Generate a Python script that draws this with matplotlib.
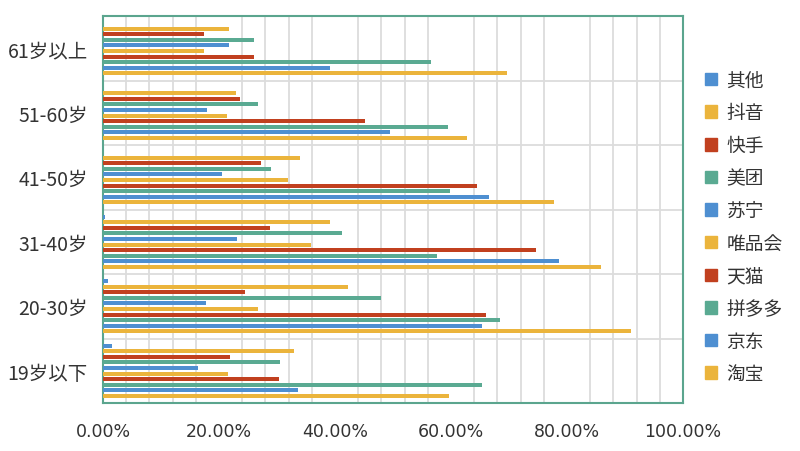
import numpy as np
import matplotlib
matplotlib.use("Agg")
import matplotlib.pyplot as plt
import matplotlib.ticker as ticker
from matplotlib.patches import Patch

plt.rcParams['font.family'] = ['Noto Sans CJK JP', 'DejaVu Sans']

# age groups, bottom -> top
groups = ["19岁以下", "20-30岁", "31-40岁", "41-50岁", "51-60岁", "61岁以上"]

# series, drawn bottom -> top inside each group
series = ["淘宝", "京东", "拼多多", "天猫", "唯品会", "苏宁", "美团", "快手", "抖音", "其他"]

taobao   = [59.7, 91.1, 85.8, 77.7, 62.8, 69.6]
jingdong = [33.6, 65.3, 78.6, 66.6, 49.5, 39.1]
pinduo   = [65.4, 68.5, 57.6, 59.8, 59.4, 56.5]
tianmao  = [30.3, 66.0, 74.7, 64.4, 45.2, 26.1]
weipin   = [21.6, 26.7, 35.9, 31.9, 21.4, 17.4]
suning   = [16.3, 17.8, 23.1, 20.6, 18.0, 21.7]
meituan  = [30.6, 48.0, 41.2, 28.9, 26.7, 26.1]
kuaishou = [21.9, 24.4, 28.8, 27.3, 23.7, 17.4]
douyin   = [33.0, 42.2, 39.2, 34.0, 22.9, 21.7]
qita     = [1.5, 0.8, 0.3, 0.0, 0.0, 0.0]

values = [taobao, jingdong, pinduo, tianmao, weipin, suning, meituan, kuaishou, douyin, qita]

blue, yellow, red, teal = "#4E8FD1", "#EBB43C", "#C1401F", "#5AAA92"
colors = [yellow, blue, teal, red, yellow, blue, teal, red, yellow, blue]

fig = plt.figure(figsize=(8, 4.52), dpi=100)
ax = fig.add_axes([103/800, 48/452, 580/800, 387/452])

y = np.arange(len(groups))
slot = 0.086
bh = 0.062
n = len(series)
for i, (name, vals) in enumerate(zip(series, values)):
    off = (i - (n - 1) / 2) * slot
    ax.barh(y + off, np.array(vals) / 100, height=bh, color=colors[i], label=name, zorder=3)

ax.set_xlim(0, 1)
ax.set_ylim(-0.5, len(groups) - 0.5)
ax.set_xticks(np.arange(0, 1.01, 0.2))
ax.set_xticks(np.arange(0, 1.001, 0.04), minor=True)
ax.xaxis.set_major_formatter(ticker.PercentFormatter(1.0, decimals=2))
ax.set_yticks(y)
ax.set_yticklabels(groups)
ax.set_yticks(np.arange(-0.5, len(groups), 0.5), minor=True)

ax.grid(True, which='minor', axis='both', color='#dcdcdc', lw=1.3, zorder=0)
ax.tick_params(axis='both', which='both', length=0)
ax.tick_params(axis='x', labelsize=12.5, colors='#333333', pad=14)
ax.tick_params(axis='y', labelsize=14, colors='#333333', pad=11)
for lab in ax.get_xticklabels():
    lab.set_family(['DejaVu Sans'])

for sp in ax.spines.values():
    sp.set_color('#5BA58E')
    sp.set_linewidth(1.5)

handles = [Patch(color=colors[i], label=series[i]) for i in range(n - 1, -1, -1)]
fig.legend(handles=handles, loc='center left', bbox_to_anchor=(688/800, 224/452),
           frameon=False, fontsize=13.5, handlelength=0.65, handleheight=0.65,
           handletextpad=0.5, labelspacing=0.62, labelcolor='#333333')

fig.savefig("out.png", dpi=100)
